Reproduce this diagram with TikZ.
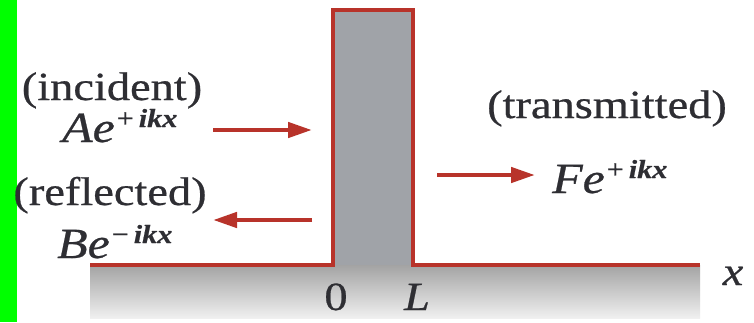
\documentclass[tikz,border=0pt]{standalone}
\usepackage{fontspec}
\setmainfont{Liberation Serif}[FakeStretch=1.16,FakeBold=0.6]
\usetikzlibrary{arrows.meta}
\definecolor{barred}{HTML}{B8332A}
\definecolor{barfill}{HTML}{A0A3A8}
\definecolor{txt}{HTML}{2E2E33}
\definecolor{scrgreen}{HTML}{00FF00}
\newcommand\wavelabel[2]{{\fontsize{43}{45}\selectfont\itshape #1e}\kern2pt\raisebox{15pt}{\fontsize{26}{28}\selectfont #2\kern5pt\bfseries\itshape ikx}}
\tikzset{
  lbl/.style={text=txt, font=\fontsize{40}{42}\selectfont, inner sep=0pt},
  redline/.style={draw=barred, line width=4.5pt, line join=miter},
  wavearrow/.style={draw=barred, line width=4.5pt, -{Triangle[length=24pt,width=15pt]}}
}
\begin{document}
\begin{tikzpicture}[x=1pt,y=1pt]
\useasboundingbox (0,0) rectangle (754,322);
\fill[white] (0,0) rectangle (754,322);
\fill[scrgreen] (0,0) rectangle (17,322);
% ground and barrier
\shade[top color=gray!72, bottom color=gray!12] (90,4) rectangle (700,57);
\fill[barfill] (333,57) rectangle (413,312);
\draw[redline] (90,57) -- (333,57) -- (333,312) -- (413,312) -- (413,57) -- (700,57);
% labels
\node[lbl, anchor=base] (inc) at (112,222) {(incident)};
\node[lbl, anchor=base west] (A) at (62,180) {\wavelabel{A}{+}};
\node[lbl, anchor=base] (ref) at (110,117) {(reflected)};
\node[lbl, anchor=base west] (B) at (57,64) {\wavelabel{B}{−}};
\node[lbl, anchor=base] (tra) at (607,204) {(transmitted)};
\node[lbl, anchor=base west] (F) at (552,129) {\wavelabel{F}{+}};
\node[lbl, anchor=base] (zero) at (336,12) {0};
\node[lbl, anchor=base] (Ll) at (417,12) {\itshape L};
\node[lbl, anchor=base] (xl) at (733,37) {\itshape x};
% arrows
\coordinate (i1) at (213,192); \coordinate (i2) at (312,192);
\coordinate (r1) at (312,102); \coordinate (r2) at (213,102);
\coordinate (t1) at (437,147); \coordinate (t2) at (535,147);
\draw[wavearrow] (i1) -- (i2);
\draw[wavearrow] (r1) -- (r2);
\draw[wavearrow] (t1) -- (t2);
\end{tikzpicture}
\end{document}
